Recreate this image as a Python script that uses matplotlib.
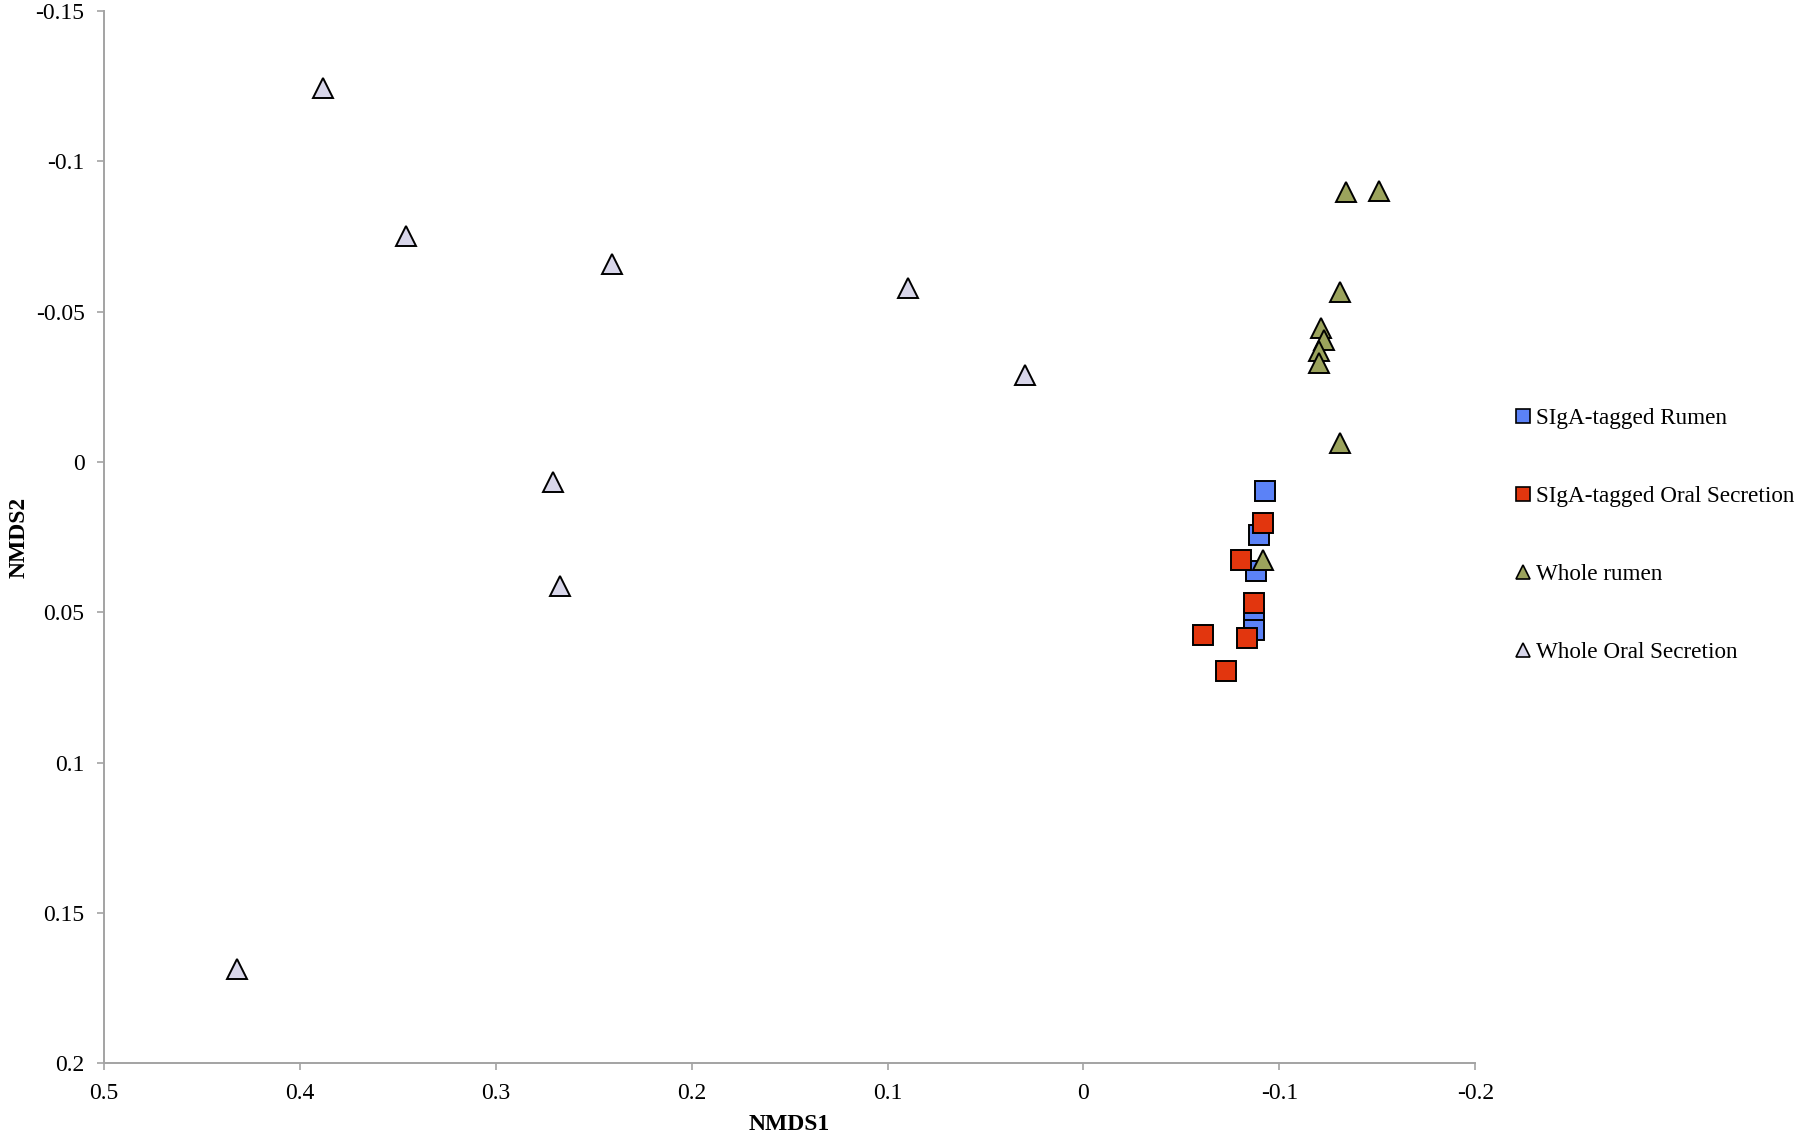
import matplotlib.pyplot as plt
from matplotlib.lines import Line2D

plt.rcParams['font.family'] = ['Liberation Serif', 'DejaVu Serif']

# NMDS coordinates
rumen_x = [-0.0925, -0.0896, -0.0879, -0.0869, -0.0869]
rumen_y = [0.0098, 0.0242, 0.0361, 0.0521, 0.0560]

oral_x = [-0.0917, -0.0806, -0.0869, -0.0610, -0.0837, -0.0730]
oral_y = [0.0202, 0.0325, 0.0468, 0.0577, 0.0585, 0.0696]

whole_rumen_x = [-0.1338, -0.1510, -0.1310, -0.1210, -0.1230, -0.1200, -0.1200, -0.1310, -0.0917]
whole_rumen_y = [-0.0899, -0.0900, -0.0564, -0.0445, -0.0407, -0.0369, -0.0330, -0.0063, 0.0327]

whole_oral_x = [0.3884, 0.3458, 0.2407, 0.0896, 0.0299, 0.2710, 0.2672, 0.4323]
whole_oral_y = [-0.1245, -0.0753, -0.0659, -0.0578, -0.0289, 0.0067, 0.0412, 0.1685]

labels = ["SIgA-tagged Rumen", "SIgA-tagged Oral Secretion", "Whole rumen", "Whole Oral Secretion"]
colors = ["#5b82f7", "#e2360e", "#9ba35c", "#d8d6ea"]
markers = ["s", "s", "^", "^"]
x_ticks = [0.5, 0.4, 0.3, 0.2, 0.1, 0, -0.1, -0.2]
y_ticks = [-0.15, -0.1, -0.05, 0, 0.05, 0.1, 0.15, 0.2]

fig = plt.figure(figsize=(18, 11.42), dpi=100)
ax = fig.add_axes([0.0578, 0.0689, 0.7618, 0.9215])

series = [(rumen_x, rumen_y), (oral_x, oral_y),
          (whole_rumen_x, whole_rumen_y), (whole_oral_x, whole_oral_y)]
for (xs, ys), c, m in zip(series, colors, markers):
    ms = 14.2 if m == "s" else 15
    ax.plot(xs, ys, linestyle="none", marker=m, markersize=ms,
            markerfacecolor=c, markeredgecolor="black", markeredgewidth=1.4)

ax.set_xlim(0.5, -0.2)
ax.set_ylim(0.2, -0.15)
ax.set_xticks(x_ticks)
ax.set_xticklabels([f"{v:g}" for v in x_ticks])
ax.set_yticks(y_ticks)
ax.set_yticklabels([f"{v:g}" for v in y_ticks])

for s in ["top", "right"]:
    ax.spines[s].set_visible(False)
for s in ["left", "bottom"]:
    ax.spines[s].set_color("#a3a3a3")
    ax.spines[s].set_linewidth(1.4)
ax.tick_params(direction="out", length=5, width=1.2, color="#a3a3a3",
               labelsize=17, pad=9)

ax.set_xlabel("NMDS1", fontsize=17, fontweight="bold")
ax.set_ylabel("NMDS2", fontsize=17, fontweight="bold")
ax.xaxis.set_label_coords(0.5, -0.048)
ax.yaxis.set_label_coords(-0.054, 0.5)

handles = [Line2D([], [], linestyle="none", marker=m, markersize=10,
                  markerfacecolor=c, markeredgecolor="black", markeredgewidth=1.2)
           for c, m in zip(colors, markers)]
fig.legend(handles, labels, loc="center left", bbox_to_anchor=(0.8411, 0.531),
           frameon=False, fontsize=16.7, handlelength=0.8, handletextpad=0.14,
           labelspacing=2.45, borderpad=0, borderaxespad=0)

fig.savefig("out.png", dpi=100)
